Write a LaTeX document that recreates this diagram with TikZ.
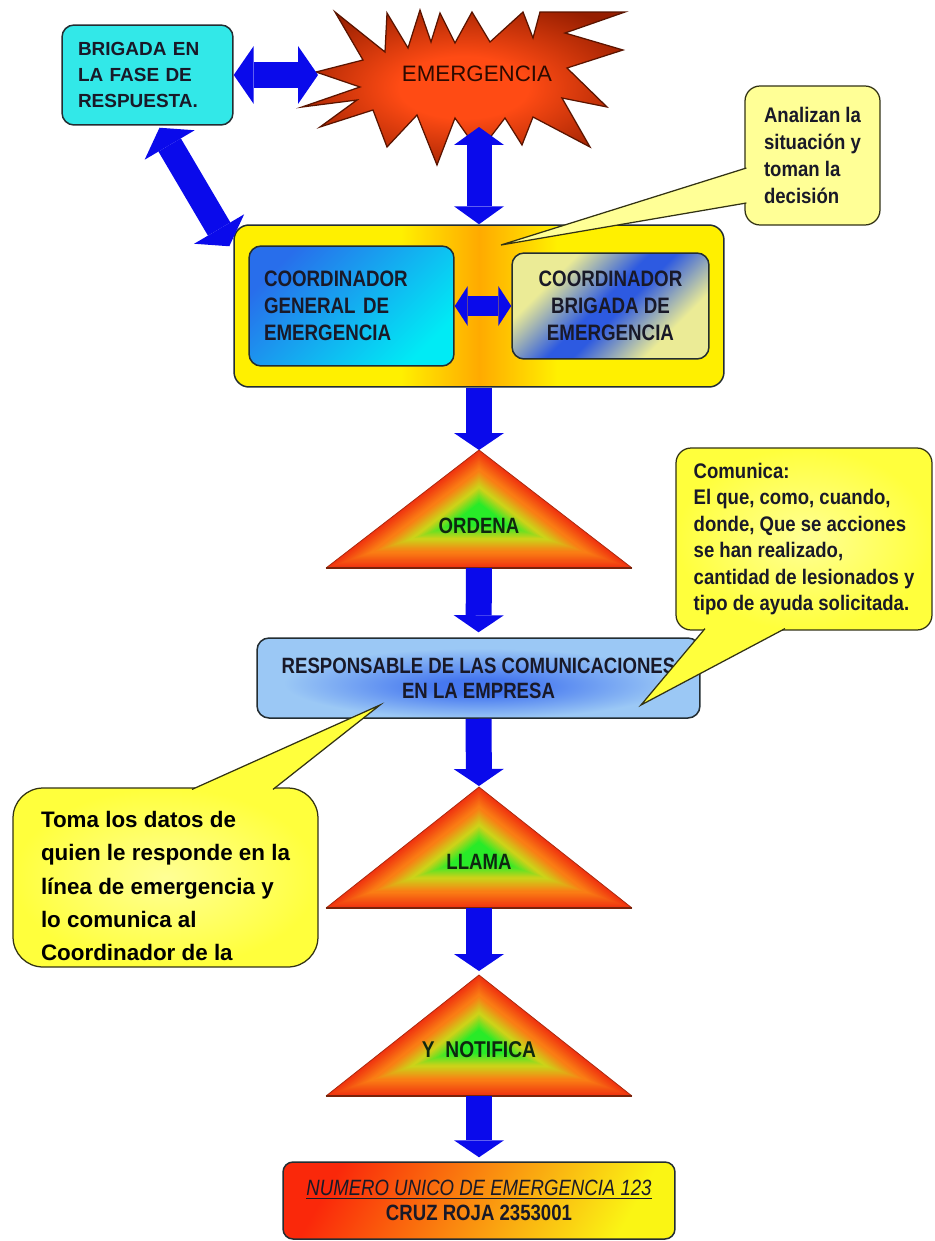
\documentclass[tikz,border=0pt]{standalone}
\usepackage{fontspec}
\setmainfont{Liberation Sans}
\newfontfamily\fA[FakeStretch=0.88]{Liberation Sans}
\newfontfamily\fB[FakeStretch=0.84]{Liberation Sans}
\usetikzlibrary{arrows.meta,calc}

\definecolor{brigCyan}{RGB}{50,232,232}
\definecolor{boxEdge}{RGB}{35,45,50}
\definecolor{starIn}{RGB}{255,75,20}
\definecolor{starOut}{RGB}{150,30,0}
\definecolor{starEdge}{RGB}{90,20,0}
\definecolor{starTxt}{RGB}{45,10,0}
\definecolor{ablue}{RGB}{10,10,235}
\definecolor{yBox}{RGB}{255,240,0}
\definecolor{yMid}{RGB}{255,170,0}
\definecolor{cgBlue}{RGB}{40,110,235}
\definecolor{cgCyan}{RGB}{0,235,245}
\definecolor{cbYellow}{RGB}{235,235,150}
\definecolor{cbBlue}{RGB}{45,90,225}
\definecolor{respLight}{RGB}{155,200,245}
\definecolor{respBlue}{RGB}{70,120,240}
\definecolor{callPale}{RGB}{255,255,150}
\definecolor{callBright}{RGB}{255,255,60}
\definecolor{callEdge}{RGB}{50,50,20}
\definecolor{triGreen}{RGB}{40,235,40}
\definecolor{triYellow}{RGB}{205,210,25}
\definecolor{triOrange}{RGB}{250,125,20}
\definecolor{triRed}{RGB}{240,50,15}
\definecolor{triEdge}{RGB}{120,35,10}
\definecolor{botRed}{RGB}{250,40,10}
\definecolor{botOrange}{RGB}{250,130,10}
\definecolor{botYellow}{RGB}{250,245,20}
\definecolor{txt}{RGB}{25,25,40}
\definecolor{triTxt}{RGB}{15,40,15}

\pgfdeclareradialshading{starshade}{\pgfpoint{0bp}{0bp}}{color(0bp)=(starIn); color(10bp)=(starIn); color(30bp)=(starOut); color(50bp)=(starOut)}
\pgfdeclarehorizontalshading{yshade}{100bp}{color(0bp)=(yBox); color(42bp)=(yBox); color(50bp)=(yMid); color(58bp)=(yBox); color(100bp)=(yBox)}
\pgfdeclarehorizontalshading{cbshade}{100bp}{color(0bp)=(cbYellow); color(30bp)=(cbYellow); color(47bp)=(cbBlue); color(53bp)=(cbBlue); color(70bp)=(cbYellow); color(100bp)=(cbYellow)}
\pgfdeclareradialshading{respshade}{\pgfpoint{0bp}{-6bp}}{color(0bp)=(respBlue); color(5bp)=(respBlue); color(22bp)=(respLight); color(50bp)=(respLight)}

% triangle with a shape-following gradient (red edges -> green centre)
% #1 apex dy, #2 half width, #3 base dy (all relative to the incentre)
\newcommand\gradtri[3]{%
  \foreach \gk in {0,...,14}{\pgfmathsetmacro\gsc{1-0.02*\gk}\pgfmathsetmacro\gmx{\gk*100/14}%
    \fill[triOrange!\gmx!triRed, scale=\gsc] (0,#1) -- (#2,#3) -- (-#2,#3) -- cycle;}%
  \foreach \gk in {0,...,12}{\pgfmathsetmacro\gsc{0.7-0.02*\gk}\pgfmathsetmacro\gmx{\gk*100/12}%
    \fill[triYellow!\gmx!triOrange, scale=\gsc] (0,#1) -- (#2,#3) -- (-#2,#3) -- cycle;}%
  \foreach \gk in {0,...,12}{\pgfmathsetmacro\gsc{0.44-0.02*\gk}\pgfmathsetmacro\gmx{\gk*100/12}%
    \fill[triGreen!\gmx!triYellow, scale=\gsc] (0,#1) -- (#2,#3) -- (-#2,#3) -- cycle;}%
  \draw[triEdge!60!triRed, line width=0.015cm] (0,#1) -- (#2,#3);
  \draw[triEdge!60!triRed, line width=0.015cm] (0,#1) -- (-#2,#3);
  \draw[triEdge, line width=0.04cm] (-#2,#3) -- (#2,#3);
}

\begin{document}
\begin{tikzpicture}[x=0.02cm,y=-0.02cm,
  box/.style={draw=boxEdge, line width=0.03cm, rounded corners=0.24cm, inner sep=0pt, text=txt},
  callbox/.style={draw=callEdge, line width=0.025cm, rounded corners=0.3cm, inner sep=0pt, text=txt},
  tritext/.style={text=triTxt, font=\fB\bfseries\fontsize{12.6}{14}\selectfont},
  dA/.style={draw=ablue, line width=0.52cm, {Triangle[width=1.16cm,length=0.4cm,line width=0pt]}-{Triangle[width=1.16cm,length=0.4cm,line width=0pt]}},
  dB/.style={draw=ablue, line width=0.5cm, {Triangle[width=1cm,length=0.36cm,line width=0pt]}-{Triangle[width=1cm,length=0.36cm,line width=0pt]}},
  dC/.style={draw=ablue, line width=0.4cm, {Triangle[width=0.8cm,length=0.26cm,line width=0pt]}-{Triangle[width=0.8cm,length=0.26cm,line width=0pt]}},
  sD/.style={draw=ablue, line width=0.52cm, -{Triangle[width=1cm,length=0.34cm,line width=0pt]}}
]
\useasboundingbox (0,0) rectangle (935,1241);
\fill[white] (0,0) rectangle (935,1241);

% ---- big yellow box with the two coordinators
\node[box, shade, shading=yshade, rounded corners=0.3cm, minimum width=9.8cm, minimum height=3.24cm] (ybox) at (479,306) {};
\node[box, shade, top color=cgBlue, bottom color=cgCyan, shading angle=45, minimum width=4.1cm, minimum height=2.4cm, text width=3.5cm, inner xsep=0.3cm, align=left, font=\fB\bfseries\fontsize{12.7}{15.4}\selectfont] (cg) at (351.5,306) {COORDINADOR\\GENERAL DE\\EMERGENCIA};
\node[box, shade, shading=cbshade, shading angle=-45, minimum width=3.94cm, minimum height=2.12cm, align=center, font=\fB\bfseries\fontsize{12.7}{15.4}\selectfont] (cb) at (610.5,306) {COORDINADOR\\BRIGADA DE\\EMERGENCIA};
\draw[dC] (cg.east) -- (cb.west);

% ---- emergency star
\shadedraw[shading=starshade, draw=starEdge, line width=0.025cm]
  (302,107) -- (360,87) -- (316,72) -- (363,60) -- (335,12) -- (385,52) -- (387,13) -- (408,48)
  -- (420,10) -- (431,42) -- (440,13) -- (455,43) -- (472,12) -- (490,42) -- (523,12) -- (533,38)
  -- (540,12) -- (625,12) -- (565,33) -- (623,50) -- (567,68) -- (607,107) -- (562,98) -- (590,147)
  -- (533,117) -- (522,145) -- (505,118) -- (479,152) -- (455,118) -- (437,165) -- (417,115)
  -- (387,147) -- (373,110) -- (320,127) -- (357,100) -- cycle;
\node[text=starTxt, font=\fontsize{12.7}{14}\selectfont] (star) at (477,74) {EMERGENCIA};
\coordinate (starW) at (318,75);
\coordinate (starS) at (479,127);

% ---- brigada
\node[box, fill=brigCyan, minimum width=3.42cm, minimum height=2cm, text width=2.78cm, inner xsep=0.32cm, align=left, font=\bfseries\fontsize{10.8}{14.8}\selectfont] (brig) at (147.5,75) {BRIGADA EN\\LA FASE DE\\RESPUESTA.};

\draw[dA] (brig.east) -- (starW);
\draw[dA] ($(brig.south)+(12,2)$) -- ($(ybox.north west)+(-4,22)$);
\draw[dB] (starS) -- (ybox.north);

% ---- callout: Analizan
\node[callbox, fill=callPale, minimum width=2.7cm, minimum height=2.78cm, align=left, font=\fA\bfseries\fontsize{12}{15.4}\selectfont] (c1) at (812.5,155.5) {Analizan la\\situación y\\toman la\\decisión};
\coordinate (c1tip) at (501,245);
\fill[callPale] ($(c1.west)+(2,12.5)$) -- (c1tip) -- ($(c1.west)+(2,47.5)$) -- cycle;
\draw[callEdge, line width=0.025cm] ($(c1.west)+(2,12.5)$) -- (c1tip) -- ($(c1.west)+(2,47.5)$);

% ---- triangles
\coordinate (ordT) at (479,450); \coordinate (ordB) at (479,568);
\begin{scope}[shift={(479,516)}] \gradtri{-66}{153}{52} \end{scope}
\node[tritext] (ordena) at (479,526) {ORDENA};

\coordinate (llaT) at (479,787); \coordinate (llaB) at (479,908);
\begin{scope}[shift={(479,855)}] \gradtri{-68}{153}{53} \end{scope}
\node[tritext] (llama) at (479,862) {LLAMA};

\coordinate (notT) at (479,975); \coordinate (notB) at (479,1096);
\begin{scope}[shift={(479,1043)}] \gradtri{-68}{153}{53} \end{scope}
\node[tritext, font=\fB\bfseries\fontsize{13}{14}\selectfont] (notif) at (479,1050) {Y \ NOTIFICA};

% ---- responsable
\node[box, shade, shading=respshade, minimum width=8.86cm, minimum height=1.6cm, align=center, font=\fB\bfseries\fontsize{12.6}{14.2}\selectfont] (resp) at (478.5,678) {RESPONSABLE DE LAS COMUNICACIONES\\EN LA EMPRESA};

% ---- final box
\node[box, shade, left color=botRed, middle color=botOrange, right color=botYellow, shading angle=60, rounded corners=0.2cm, minimum width=7.84cm, minimum height=1.54cm, align=center, font=\fB\fontsize{12.6}{14.2}\selectfont] (num) at (479,1200.5) {\itshape\underline{NUMERO UNICO DE EMERGENCIA 123}\\\bfseries CRUZ ROJA 2353001};

% ---- flow arrows
\draw[sD] (ybox.south) -- (ordT);
\draw[sD, shorten >=0.1cm] (ordB) -- (resp.north);
\draw[sD, shorten >=0.02cm] (resp.south) -- (llaT);
\draw[sD, shorten >=0.08cm] (llaB) -- (notT);
\draw[sD, shorten >=0.08cm] (notB) -- (num.north);

% ---- callout: Comunica
\node[callbox, inner color=callPale, outer color=callBright, minimum width=5.12cm, minimum height=3.64cm, align=left, font=\fA\bfseries\fontsize{12}{15.1}\selectfont] (c2) at (804,539) {Comunica:\\El que, como, cuando,\\donde, Que se acciones\\se han realizado,\\cantidad de lesionados y\\tipo de ayuda solicitada.};
\coordinate (c2tip) at (641,705);
\fill[callBright] ($(c2.south)+(-99,-2)$) -- (c2tip) -- ($(c2.south)+(-19,-2)$) -- cycle;
\draw[callEdge, line width=0.025cm] ($(c2.south)+(-99,-2)$) -- (c2tip) -- ($(c2.south)+(-19,-2)$);

% ---- callout: Toma los datos
\node[callbox, inner color=callPale, outer color=callBright, rounded corners=0.6cm, minimum width=6.1cm, minimum height=3.58cm] (c3) at (165.5,877.5) {};
\coordinate (c3tip) at (380,705);
\fill[callBright] ($(c3.north)+(26.5,2)$) -- (c3tip) -- ($(c3.north)+(107.5,2)$) -- cycle;
\draw[callEdge, line width=0.025cm] ($(c3.north)+(26.5,2)$) -- (c3tip) -- ($(c3.north)+(107.5,2)$);
\node[align=left, text=black, inner sep=0pt, font=\bfseries\fontsize{12.75}{18.8}\selectfont] (c3t) at (165.5,886) {Toma los datos de\\quien le responde en la\\línea de emergencia y\\lo comunica al\\Coordinador de la};

\end{tikzpicture}
\end{document}
